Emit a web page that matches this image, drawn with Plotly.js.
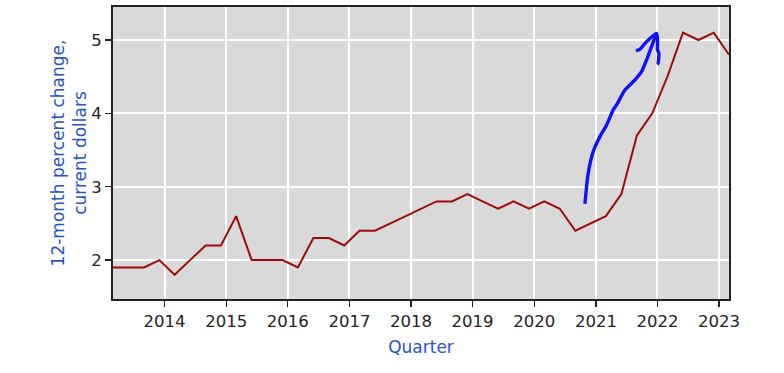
<!DOCTYPE html>
<html>
<head>
<meta charset="utf-8">
<script src="https://cdn.plot.ly/plotly-3.0.1.min.js"></script>
<style>html,body{margin:0;padding:0;background:#fff;}#chart{width:784px;height:373px;}</style>
</head>
<body>
<div id="chart"></div>
<script>
// Quarterly observations (first day of the quarter's last month)
var quarterDates = [
  '2013-03-01','2013-06-01','2013-09-01','2013-12-01',
  '2014-03-01','2014-06-01','2014-09-01','2014-12-01',
  '2015-03-01','2015-06-01','2015-09-01','2015-12-01',
  '2016-03-01','2016-06-01','2016-09-01','2016-12-01',
  '2017-03-01','2017-06-01','2017-09-01','2017-12-01',
  '2018-03-01','2018-06-01','2018-09-01','2018-12-01',
  '2019-03-01','2019-06-01','2019-09-01','2019-12-01',
  '2020-03-01','2020-06-01','2020-09-01','2020-12-01',
  '2021-03-01','2021-06-01','2021-09-01','2021-12-01',
  '2022-03-01','2022-06-01','2022-09-01','2022-12-01',
  '2023-03-01'
];
var pctChange = [
  1.9, 1.9, 1.9, 2.0,
  1.8, 2.0, 2.2, 2.2,
  2.6, 2.0, 2.0, 2.0,
  1.9, 2.3, 2.3, 2.2,
  2.4, 2.4, 2.5, 2.6,
  2.7, 2.8, 2.8, 2.9,
  2.8, 2.7, 2.8, 2.7,
  2.8, 2.7, 2.4, 2.5,
  2.6, 2.9, 3.7, 4.0,
  4.5, 5.1, 5.0, 5.1,
  4.8
];
// Hand-drawn blue arrow annotation (decimal years, values); null = pen lift
var arrowYears = [
  2020.822, 2020.849, 2020.875, 2020.956, 2021.065, 2021.174, 2021.281, 2021.336,
  2021.471, 2021.633, 2021.741, 2021.822, 2021.903, 2021.984,
  null,
  2021.649, 2021.714, 2021.822, 2021.984, 2022.001, 2022.001, 2022.022, 2022.010, 2021.995
];
var arrowValues = [
  2.767, 3.002, 3.185, 3.479, 3.683, 3.842, 4.047, 4.115,
  4.319, 4.455, 4.568, 4.728, 4.909, 5.091,
  null,
  4.854, 4.873, 4.977, 5.091, 5.000, 4.864, 4.819, 4.683, 4.669
];
var yTicks = [2, 3, 4, 5];

function decYearToDate(d) {
  if (d === null) return null;
  var y = Math.floor(d);
  var start = Date.UTC(y, 0, 1), end = Date.UTC(y + 1, 0, 1);
  var ms = start + (d - y) * (end - start);
  return new Date(ms).toISOString().slice(0, 19).replace('T', ' ');
}

var titleBlue = '#2a52c4';
var font = 'DejaVu Sans, Verdana, sans-serif';

var traces = [
  {
    x: quarterDates, y: pctChange, type: 'scatter', mode: 'lines',
    line: {color: '#9e0b0b', width: 2}, hoverinfo: 'x+y'
  },
  {
    x: arrowYears.map(decYearToDate), y: arrowValues, type: 'scatter', mode: 'lines',
    line: {color: '#1010ff', width: 3.4, shape: 'spline', smoothing: 0.6},
    connectgaps: false, hoverinfo: 'skip'
  }
];

var layout = {
  width: 784, height: 373,
  margin: {l: 113, r: 55, t: 7, b: 74},
  paper_bgcolor: '#ffffff', plot_bgcolor: '#d9d9d9',
  showlegend: false,
  font: {family: font, color: '#222', size: 16},
  xaxis: {
    type: 'date', range: ['2013-03-01', '2023-03-01'],
    tick0: '2014-01-01', dtick: 'M12', tickformat: '%Y',
    ticks: 'outside', ticklen: 6, tickwidth: 1.3, tickcolor: '#222',
    showline: true, linecolor: '#222', linewidth: 2, mirror: true,
    showgrid: true, gridcolor: '#ffffff', gridwidth: 2, zeroline: false,
    tickfont: {family: font, size: 16.5, color: '#222'},
    title: {text: 'Quarter', font: {family: font, size: 17, color: titleBlue}, standoff: 11}
  },
  yaxis: {
    range: [1.47, 5.45], tickvals: yTicks, ticktext: yTicks.map(String),
    ticks: 'outside', ticklen: 6, tickwidth: 1.3, tickcolor: '#222',
    showline: true, linecolor: '#222', linewidth: 2, mirror: true,
    showgrid: true, gridcolor: '#ffffff', gridwidth: 2, zeroline: false,
    tickfont: {family: font, size: 16.5, color: '#222'},
    title: {text: '12-month percent change,<br>current dollars', font: {family: font, size: 17, color: titleBlue}, standoff: 0}
  }
};

Plotly.newPlot('chart', traces, layout, {displayModeBar: false, staticPlot: true});
</script>
</body>
</html>
